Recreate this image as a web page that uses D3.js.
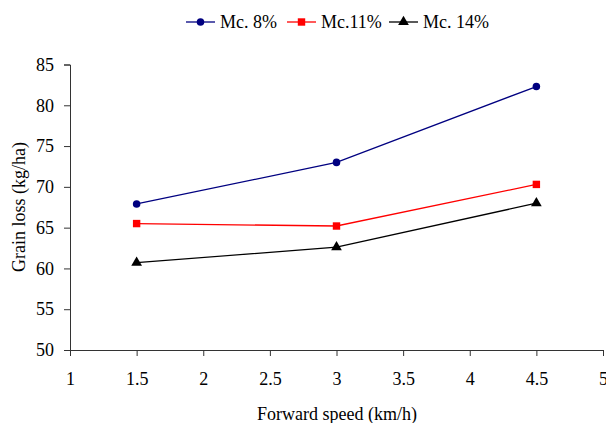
<!DOCTYPE html>
<html><head><meta charset="utf-8">
<script src="https://cdn.jsdelivr.net/npm/d3@7"></script>
<style>body{margin:0;background:#fff}svg{display:block}</style>
</head><body><svg id="c" width="606" height="423"></svg>
<script>
const speeds = [1.5, 3, 4.5];
const mc8 = [67.9, 73.0, 82.3];
const mc11 = [65.5, 65.2, 70.3];
const mc14 = [60.7, 62.6, 68.0];
const seriesNames = ["Mc. 8%", "Mc.11%", "Mc. 14%"];
const xTicks = [1, 1.5, 2, 2.5, 3, 3.5, 4, 4.5, 5];
const yTicks = [50, 55, 60, 65, 70, 75, 80, 85];

const FONT = "Liberation Serif";
const series = [
  {name: seriesNames[0], values: mc8, color: "#000080", sym: d3.symbolCircle, size: 45},
  {name: seriesNames[1], values: mc11, color: "#FF0000", sym: d3.symbolSquare, size: 55},
  {name: seriesNames[2], values: mc14, color: "#000000", sym: d3.symbolTriangle, size: 50}
];

const svg = d3.select("#c").attr("font-family", FONT);
const x = d3.scaleLinear().domain([1, 5]).range([70, 603]);
const y = d3.scaleLinear().domain([50, 85]).range([350, 64.5]);

const gx = svg.append("g").attr("transform", "translate(0,350)")
  .call(d3.axisBottom(x).tickValues(xTicks).tickSize(6).tickPadding(16).tickFormat(d3.format("")));
const gy = svg.append("g").attr("transform", "translate(70,0)")
  .call(d3.axisLeft(y).tickValues(yTicks).tickSize(6).tickPadding(10).tickFormat(d3.format("")));
[gx, gy].forEach(g => {
  g.attr("font-family", FONT).attr("font-size", 18);
  g.selectAll("path,line").attr("stroke", "#333").attr("stroke-width", 1);
  g.selectAll("text").attr("font-family", FONT).attr("font-size", 18).attr("fill", "#000");
});

const line = d3.line().x((d, i) => x(speeds[i])).y(d => y(d));
series.forEach(s => {
  svg.append("path").datum(s.values).attr("d", line)
    .attr("fill", "none").attr("stroke", s.color).attr("stroke-width", 1.3);
  svg.selectAll(null).data(s.values).enter().append("path")
    .attr("d", d3.symbol().type(s.sym).size(s.size))
    .attr("transform", (d, i) => `translate(${x(speeds[i])},${y(d)})`)
    .attr("fill", s.color);
});

// axis titles
svg.append("text").attr("x", 337).attr("y", 420).attr("text-anchor", "middle")
  .attr("font-family", FONT).attr("font-size", 18).text("Forward speed (km/h)");
svg.append("clipPath").attr("id", "yclip").append("rect").attr("x", 0).attr("y", 141).attr("width", 40).attr("height", 200);
svg.append("g").attr("clip-path", "url(#yclip)")
  .append("text")
  .attr("transform", "translate(25,272) rotate(-90)").attr("text-anchor", "start")
  .attr("font-family", FONT).attr("font-size", 18).text("Grain loss (kg/ha)");

// legend
const legX = [186, 287, 389];
series.forEach((s, i) => {
  const g = svg.append("g").attr("transform", `translate(${legX[i]},22)`);
  g.append("line").attr("x1", 0).attr("x2", 29).attr("stroke", s.color).attr("stroke-width", 1.3);
  g.append("path").attr("d", d3.symbol().type(s.sym).size(s.size)).attr("transform", "translate(14.5,0)").attr("fill", s.color);
  g.append("text").attr("x", 34).attr("y", 6).attr("font-family", FONT).attr("font-size", 18).text(s.name);
});
</script></body></html>
